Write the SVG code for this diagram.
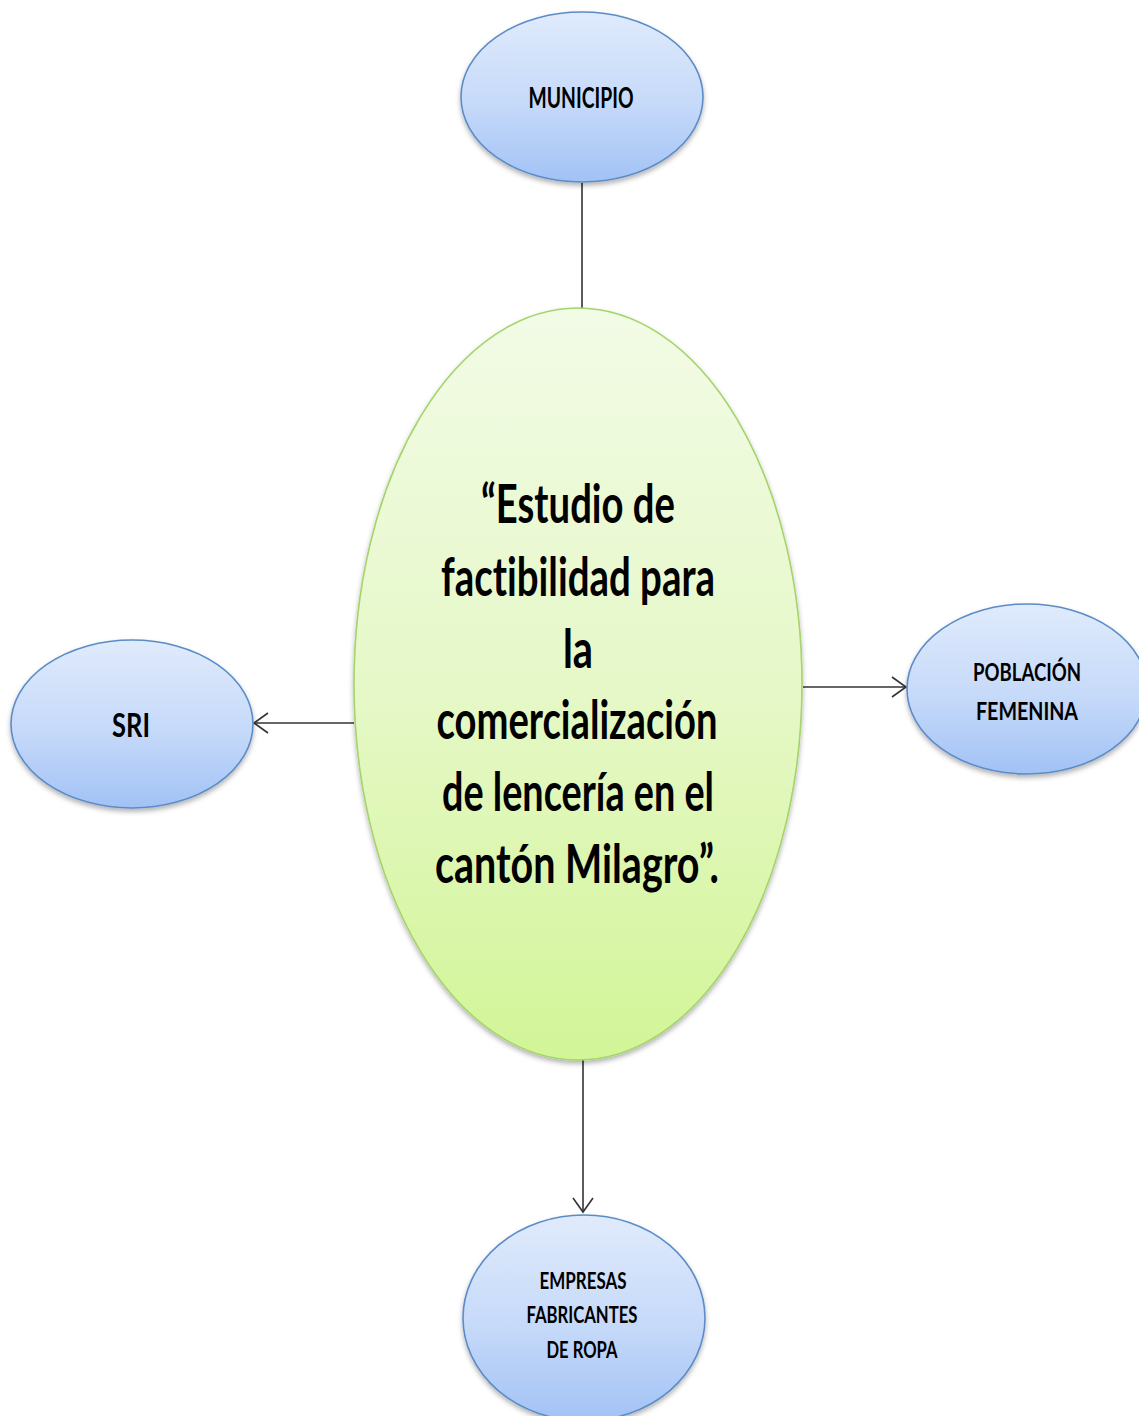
<svg xmlns="http://www.w3.org/2000/svg" width="1139" height="1416" viewBox="0 0 1139 1416">
<defs>
<linearGradient id="gBlue" x1="0" y1="0" x2="0" y2="1">
<stop offset="0" stop-color="#e0ebfc"/>
<stop offset="0.55" stop-color="#c5d9f9"/>
<stop offset="1" stop-color="#a2c2f5"/>
</linearGradient>
<linearGradient id="gGreen" x1="0" y1="0" x2="0" y2="1">
<stop offset="0" stop-color="#f2fbe6"/>
<stop offset="0.5" stop-color="#e6f8c8"/>
<stop offset="1" stop-color="#d2f597"/>
</linearGradient>
<filter id="shadow" x="-10%" y="-10%" width="120%" height="125%">
<feDropShadow dx="0" dy="3" stdDeviation="2.5" flood-color="#000" flood-opacity="0.3"/>
</filter>
<marker id="arrow" viewBox="-16 -12 18 24" refX="0" refY="0" markerWidth="18" markerHeight="24" markerUnits="userSpaceOnUse" orient="auto">
<path d="M -14 -10 L 0 0 L -14 10" fill="none" stroke="#333" stroke-width="1.6"/>
</marker>
</defs>
<style>
.blue{fill:url(#gBlue);stroke:#5b8cc8;stroke-width:1.6;filter:url(#shadow)}
.green{fill:url(#gGreen);stroke:#a4d46a;stroke-width:1.6;filter:url(#shadow)}
.conn{stroke:#333;stroke-width:1.6;fill:none}
text{font-family:Lato,"Open Sans","DejaVu Sans",sans-serif;font-weight:bold;fill:#000;text-anchor:middle;font-variant-ligatures:none;font-feature-settings:"liga" 0}
.big{font-size:53px}
</style>
<rect x="0" y="0" width="1139" height="1416" fill="#fff"/>
<g id="connectors">
<line class="conn" x1="582" y1="183" x2="582" y2="308"/>
<line class="conn" x1="354" y1="723" x2="254" y2="723" marker-end="url(#arrow)"/>
<line class="conn" x1="803" y1="687" x2="906" y2="687" marker-end="url(#arrow)"/>
<line class="conn" x1="583" y1="1060" x2="583" y2="1212" marker-end="url(#arrow)"/>
</g>
<g id="municipio">
<ellipse class="blue" cx="582" cy="97" rx="121" ry="85"/>
<text x="581" y="108" font-size="28" textLength="105" lengthAdjust="spacingAndGlyphs">MUNICIPIO</text>
</g>
<g id="centro">
<ellipse class="green" cx="578" cy="684" rx="224" ry="376"/>
<text class="big" x="578" y="523" textLength="194" lengthAdjust="spacingAndGlyphs">“Estudio de</text>
<text class="big" x="578" y="596" textLength="274" lengthAdjust="spacingAndGlyphs">factibilidad para</text>
<text class="big" x="578" y="668" textLength="30" lengthAdjust="spacingAndGlyphs">la</text>
<text class="big" x="577" y="739" textLength="281" lengthAdjust="spacingAndGlyphs">comercialización</text>
<text class="big" x="578" y="811" textLength="272" lengthAdjust="spacingAndGlyphs">de lencería en el</text>
<text class="big" x="577" y="883" textLength="284" lengthAdjust="spacingAndGlyphs">cantón Milagro”.</text>
</g>
<g id="sri">
<ellipse class="blue" cx="132" cy="724" rx="121" ry="84"/>
<text x="131" y="737" font-size="33" textLength="38" lengthAdjust="spacingAndGlyphs">SRI</text>
</g>
<g id="poblacion">
<ellipse class="blue" cx="1027" cy="689" rx="120" ry="85"/>
<text x="1027" y="681" font-size="25" textLength="108" lengthAdjust="spacingAndGlyphs">POBLACIÓN</text>
<text x="1027" y="720" font-size="25" textLength="102" lengthAdjust="spacingAndGlyphs">FEMENINA</text>
</g>
<g id="empresas">
<ellipse class="blue" cx="584" cy="1318" rx="121" ry="103"/>
<text x="583" y="1289" font-size="22" textLength="87" lengthAdjust="spacingAndGlyphs">EMPRESAS</text>
<text x="582" y="1323" font-size="22" textLength="111" lengthAdjust="spacingAndGlyphs">FABRICANTES</text>
<text x="582" y="1358" font-size="22" textLength="71" lengthAdjust="spacingAndGlyphs">DE ROPA</text>
</g>
</svg>
